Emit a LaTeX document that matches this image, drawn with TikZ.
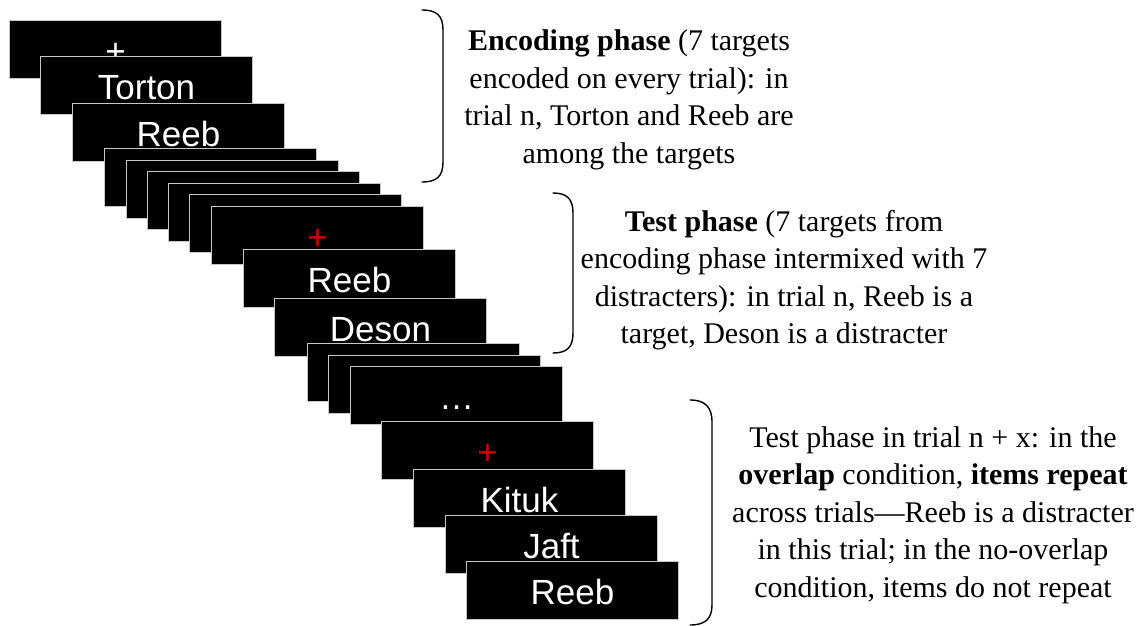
\documentclass[tikz,border=0pt]{standalone}
\usepackage{fontspec}
\setmainfont{Liberation Serif}
\newfontfamily\screenfont{Liberation Sans}
\usetikzlibrary{positioning}
\definecolor{crossred}{RGB}{204,0,0}

\begin{document}
\begin{tikzpicture}[
  x=1pt, y=-1pt,
  screen/.style={draw=gray!45, line width=1pt, fill=black, anchor=north west,
    minimum width=212pt, minimum height=58pt, inner sep=0pt,
    text height=28.5pt, text depth=0pt, text=white,
    font=\screenfont\fontsize{35}{40}\selectfont},
  cross/.style={screen, text=crossred},
  note/.style={align=center, inner sep=0pt, font=\fontsize{30}{37.5}\selectfont},
  brace/.style={line width=1.4pt, line cap=round}
]
\useasboundingbox (0,0) rectangle (1140,626);

% Encoding phase screens
\node[screen] (s1) at (9,20) {+};
\node[screen] (s2) at (40,56) {Torton};
\node[screen] (s3) at (72,103) {Reeb};
\node[screen] (s4) at (104,148) {};
\node[screen] (s5) at (126,160) {};
\node[screen] (s6) at (147,171) {};
\node[screen] (s7) at (168,183) {};
\node[screen] (s8) at (189,194) {};

% Test phase screens (trial n)
\node[cross] (s9) at (211,206) {+};
\node[screen] (s10) at (243,249) {Reeb};
\node[screen] (s11) at (274,298) {Deson};
\node[screen] (s12) at (307,343) {};
\node[screen] (s13) at (328,355) {};
\node[screen] (s14) at (350,366) {…};

% Test phase screens (trial n + x)
\node[cross] (s15) at (381,421) {+};
\node[screen] (s16) at (413,469) {Kituk};
\node[screen] (s17) at (445,515) {Jaft};
\node[screen] (s18) at (466,561) {Reeb};

% Brackets
\draw[brace] (422,10) .. controls (437,10) and (443,16) .. (443,30)
  -- (443,162) .. controls (443,176) and (437,182) .. (422,182);
\draw[brace] (553,193) .. controls (567,193) and (573,199) .. (573,213)
  -- (573,333) .. controls (573,347) and (567,353) .. (553,353);
\draw[brace] (690,400) .. controls (705,400) and (712,407) .. (712,422)
  -- (712,605) .. controls (712,619) and (705,625) .. (690,625);

% Descriptions
\node[note] (enc) at (629,100) {\textbf{Encoding phase} (7 targets\\
  encoded on every trial): in\\
  trial n, Torton and Reeb are\\
  among the targets};
\node[note] (test) at (784,280) {\textbf{Test phase} (7 targets from\\
  encoding phase intermixed with 7\\
  distracters): in trial n, Reeb is a\\
  target, Deson is a distracter};
\node[note] (later) at (933,515) {Test phase in trial n + x: in the\\
  \textbf{overlap} condition, \textbf{items repeat}\\
  across trials—Reeb is a distracter\\
  in this trial; in the no-overlap\\
  condition, items do not repeat};

\end{tikzpicture}
\end{document}
